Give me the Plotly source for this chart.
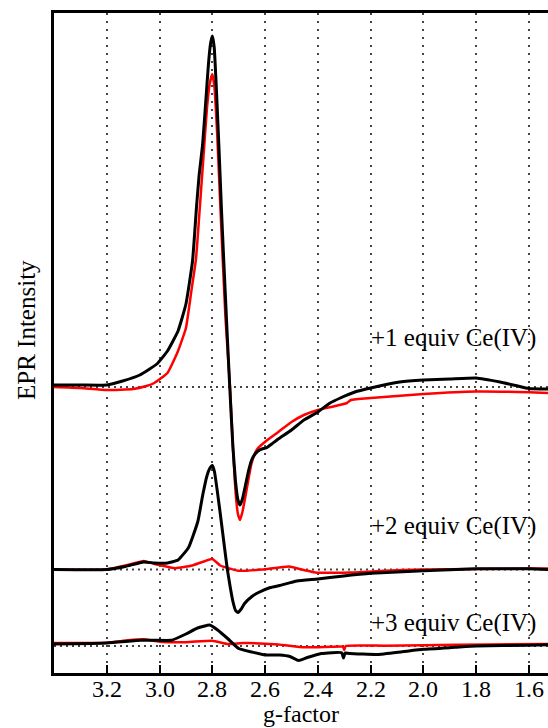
import plotly.graph_objects as go

# ---------------- data (g-factor, intensity relative to each baseline) ----------------
G_RANGE = [3.40, 1.528]
OFFSETS = [286, 103.5, 27]          # vertical offsets of the three stacked spectra
LABELS = ["+1 equiv Ce(IV)", "+2 equiv Ce(IV)", "+3 equiv Ce(IV)"]
LABEL_G = 2.205
LABEL_Y = [335, 147, 50]
TICK_VALS = [3.2, 3.0, 2.8, 2.6, 2.4, 2.2, 2.0, 1.8, 1.6]
TICK_TEXT = ["3.2", "3.0", "2.8", "2.6", "2.4", "2.2", "2.0", "1.8", "1.6"]

s1_black_g = [3.40, 3.30, 3.20, 3.14, 3.075, 3.01, 2.97, 2.93, 2.90, 2.875, 2.86, 2.85, 2.837,
              2.825, 2.815, 2.807, 2.80, 2.793, 2.785, 2.775, 2.765, 2.757, 2.745, 2.734, 2.722,
              2.712, 2.703, 2.695, 2.686, 2.675, 2.663, 2.651, 2.638, 2.627, 2.612, 2.596, 2.575,
              2.55, 2.50, 2.453, 2.40, 2.354, 2.315, 2.26, 2.20, 2.09, 2.00, 1.90, 1.80, 1.71,
              1.65, 1.60, 1.528]
s1_black_i = [2, 2, 2, 6, 12, 23, 36, 56, 83, 126, 180, 212, 242,
              285, 322, 343, 351, 340, 300, 240, 175, 128, 60, 0, -60,
              -95, -113, -118, -112, -99, -84, -73, -67, -64, -62, -61, -57,
              -52, -43, -33, -25, -16, -11, -5, -1, 5, 7, 8, 9, 5,
              1.5, -1.5, -2]

s1_red_g = [3.40, 3.30, 3.20, 3.10, 3.05, 3.02, 2.97, 2.93, 2.90, 2.88, 2.862, 2.85, 2.835,
            2.82, 2.81, 2.80, 2.792, 2.782, 2.772, 2.762, 2.75, 2.733, 2.722, 2.712, 2.703,
            2.695, 2.686, 2.675, 2.663, 2.651, 2.638, 2.627, 2.596, 2.55, 2.50, 2.453, 2.40,
            2.35, 2.29, 2.275, 2.20, 2.10, 2.00, 1.80, 1.60, 1.528]
s1_red_i = [0, -1, -3, -2, 1, 4, 14, 36, 59, 95, 128, 170, 225,
            280, 303, 313, 300, 255, 195, 135, 68, 0, -60, -105, -127,
            -133, -125, -110, -92, -76, -66, -61, -54, -45, -35, -28, -23,
            -20, -16, -13, -11, -9, -7, -4.5, -5.3, -6]

s2_black_g = [3.40, 3.20, 3.13, 3.06, 3.02, 2.97, 2.93, 2.89, 2.855, 2.836, 2.82, 2.81, 2.80,
              2.792, 2.782, 2.77, 2.76, 2.75, 2.743, 2.732, 2.722, 2.712, 2.703, 2.692, 2.678,
              2.65, 2.625, 2.58, 2.545, 2.48, 2.40, 2.31, 2.20, 2.00, 1.80, 1.60, 1.528]
s2_black_i = [0, 0, 3, 7.5, 6.5, 6.5, 9.5, 22, 48, 75, 94, 101, 104,
              98, 80, 56, 35, 14, 0, -18, -32, -41, -43, -40, -34,
              -27, -23, -18, -16, -11.5, -9.5, -6.7, -3.8, -1.3, 0.7, 0.7, 0]

s2_red_g = [3.40, 3.20, 3.114, 3.06, 3.01, 2.94, 2.876, 2.80, 2.77, 2.70, 2.61, 2.51, 2.45,
            2.41, 2.28, 2.15, 2.00, 1.80, 1.60, 1.528]
s2_red_i = [0, 0, 5, 8.5, 5, 1.3, 4, 10.5, 4, -1.3, 0, 3, -0.7,
            -3, -3, -1.3, 0, 0.5, 1, 1]

s3_black_g = [3.40, 3.20, 3.07, 3.02, 2.955, 2.90, 2.856, 2.81, 2.78, 2.74, 2.70, 2.65, 2.60,
              2.545, 2.506, 2.473, 2.44, 2.387, 2.31, 2.303, 2.297, 2.28, 2.175, 2.08, 2.00,
              1.88, 1.80, 1.60, 1.528]
s3_black_i = [2, 3, 5.7, 5.7, 5.7, 12, 18, 21, 16, 7, -2.5, -6, -9,
              -9, -10.5, -14.5, -11.5, -7.5, -6.7, -12, -7, -7.5, -8.5, -5.7, -3.3,
              -1.3, 0, 0.7, 1.3]

s3_red_g = [3.40, 3.20, 3.12, 3.06, 3.00, 2.90, 2.80, 2.74, 2.68, 2.55, 2.45, 2.35, 2.305,
            2.30, 2.295, 2.15, 2.00, 1.75, 1.528]
s3_red_i = [3, 3.3, 5.7, 6.7, 4.3, 3.8, 5.3, 2, 2.9, 1.6, -1.3, -0.7, -0.7,
            -4, 0, 0.3, 0.7, 1.6, 2]

# ---------------- figure ----------------
FONT = "Liberation Serif, Times New Roman, serif"
fig = go.Figure()

# dotted baselines
for off in OFFSETS:
    fig.add_trace(go.Scatter(x=G_RANGE, y=[off, off], mode="lines",
                             line=dict(color="#444444", width=2, dash="2px,4px"),
                             hoverinfo="skip", showlegend=False))

spectra = [
    (s1_black_g, s1_black_i, s1_red_g, s1_red_i),
    (s2_black_g, s2_black_i, s2_red_g, s2_red_i),
    (s3_black_g, s3_black_i, s3_red_g, s3_red_i),
]
for (bg, bi, rg, ri), off in zip(spectra, OFFSETS):
    fig.add_trace(go.Scatter(x=rg, y=[v + off for v in ri], mode="lines",
                             line=dict(color="#ff0000", width=2.5, shape="spline", smoothing=0.4),
                             showlegend=False))
    fig.add_trace(go.Scatter(x=bg, y=[v + off for v in bi], mode="lines",
                             line=dict(color="#000000", width=3, shape="spline", smoothing=0.4),
                             showlegend=False))

for lab, ly in zip(LABELS, LABEL_Y):
    fig.add_annotation(x=LABEL_G, y=ly, xref="x", yref="y", text=lab, showarrow=False,
                       xanchor="left", yanchor="middle",
                       font=dict(family=FONT, size=25, color="#000000"))

# tick labels (placed close under the axis as in the original)
for tv, tt in zip(TICK_VALS, TICK_TEXT):
    fig.add_annotation(x=tv, y=0, xref="x", yref="paper", text=tt, showarrow=False,
                       xanchor="center", yanchor="middle", yshift=-16,
                       font=dict(family=FONT, size=24, color="#000000"))

fig.add_annotation(x=0, y=(673 - 330) / 660, xref="paper", yref="paper", text="EPR Intensity",
                   textangle=-90, showarrow=False, xanchor="center", yanchor="middle",
                   xshift=-28, font=dict(family=FONT, size=25, color="#000000"))
fig.add_annotation(x=0.5, y=0, xref="paper", yref="paper", text="g-factor",
                   showarrow=False, xanchor="center", yanchor="middle", yshift=-41,
                   font=dict(family=FONT, size=24, color="#000000"))

fig.update_layout(
    width=548, height=728,
    margin=dict(l=54, r=0, t=13, b=55),
    paper_bgcolor="white", plot_bgcolor="white",
    showlegend=False,
    xaxis=dict(range=G_RANGE, tickvals=TICK_VALS, showticklabels=False,
               ticks="inside", ticklen=8, tickwidth=2, tickcolor="black",
               showline=True, linecolor="black", linewidth=2.5, mirror=True,
               showgrid=True, gridcolor="#444444", gridwidth=1.5, griddash="2px,6px",
               zeroline=False),
    yaxis=dict(range=[0, 660], showticklabels=False, ticks="", showgrid=False,
               zeroline=False, showline=True, linecolor="black", linewidth=2.5),
)

fig.write_html("out.html")
